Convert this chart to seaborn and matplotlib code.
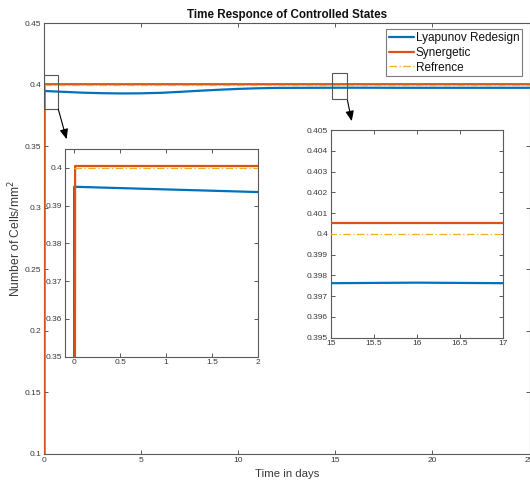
import numpy as np
import pandas as pd
import matplotlib
matplotlib.use("Agg")
import matplotlib.pyplot as plt
from matplotlib.patches import Rectangle
from matplotlib.ticker import FuncFormatter
import seaborn as sns

# ---- data -------------------------------------------------------------
lyap_t = [0.0, 0.0, 1, 2, 3, 4, 5, 6, 7, 8, 9, 10, 11, 12, 14, 16, 18, 20, 25]
lyap_y = [0.1, 0.3950, 0.3943, 0.3936, 0.3932, 0.3930, 0.3931, 0.3935, 0.3943,
          0.3952, 0.3960, 0.3967, 0.3972, 0.3975, 0.3976, 0.39765, 0.3976,
          0.3976, 0.3976]

syn_t = [0.0, 0.01, 25]
syn_y = [0.1, 0.4005, 0.4005]

ref_t = [0.0, 25]
ref_y = [0.4, 0.4]

series_names = ["Lyapunov Redesign", "Synergetic", "Refrence"]
series_colors = ["#0072BD", "#D95319", "#EDB120"]

main_xticks = [0, 5, 10, 15, 20, 25]
main_yticks = [0.1, 0.15, 0.2, 0.25, 0.3, 0.35, 0.4, 0.45]
inset1_xticks = [0, 0.5, 1, 1.5, 2]
inset1_yticks = [0.35, 0.36, 0.37, 0.38, 0.39, 0.4]
inset2_xticks = [15, 15.5, 16, 16.5, 17]
inset2_yticks = [0.395, 0.396, 0.397, 0.398, 0.399, 0.4, 0.401, 0.402,
                 0.403, 0.404, 0.405]

frames = [
    pd.DataFrame({"t": lyap_t, "y": lyap_y, "s": series_names[0]}),
    pd.DataFrame({"t": syn_t, "y": syn_y, "s": series_names[1]}),
    pd.DataFrame({"t": ref_t, "y": ref_y, "s": series_names[2]}),
]

# ---- style ------------------------------------------------------------
sns.set_style("ticks")
plt.rcParams["font.family"] = ["Liberation Sans", "DejaVu Sans"]
AX_COL = "#5a5a5a"
TXT_COL = "#3a3a3a"

W, H = 530, 487
fig = plt.figure(figsize=(W / 100, H / 100), dpi=100)


def px_axes(left, top, right, bottom):
    return fig.add_axes([left / W, 1 - bottom / H, (right - left) / W,
                         (bottom - top) / H])


def draw_series(ax, lw=1.6):
    for df, c in zip(frames, series_colors):
        if df["s"].iloc[0] == "Refrence":
            sns.lineplot(data=df, x="t", y="y", ax=ax, color=c, lw=0.9,
                         linestyle=(0, (6, 2, 1, 2)), estimator=None,
                         sort=False, label=df["s"].iloc[0], zorder=4)
        else:
            sns.lineplot(data=df, x="t", y="y", ax=ax, color=c, lw=lw,
                         estimator=None, sort=False,
                         label=df["s"].iloc[0], zorder=3)


def style_axes(ax, fs=6):
    for sp in ax.spines.values():
        sp.set_visible(True)
        sp.set_color(AX_COL)
        sp.set_linewidth(0.8)
    ax.tick_params(direction="in", length=3, width=0.7, colors=AX_COL,
                   labelcolor=TXT_COL, labelsize=fs, top=True, right=True,
                   pad=2)
    ax.set_xlabel("")
    ax.set_ylabel("")


fmt_g = FuncFormatter(lambda v, _: f"{v:g}")

# ---- main axes --------------------------------------------------------
ax = px_axes(44.3, 23.3, 529.5, 454)
draw_series(ax)
ax.set_xlim(0, 25)
ax.set_ylim(0.1, 0.45)
ax.set_xticks(main_xticks)
ax.set_yticks(main_yticks)
ax.xaxis.set_major_formatter(fmt_g)
ax.yaxis.set_major_formatter(fmt_g)
style_axes(ax)
ax.set_xlabel("Time in days", fontsize=8.2, color=TXT_COL, labelpad=4)
ax.set_ylabel("Number of Cells/mm$^2$", fontsize=8.7, color=TXT_COL,
              labelpad=1)
ax.set_title("Time Responce of Controlled States", fontsize=8.4,
             fontweight="bold", color="#111111", pad=4)

leg = ax.legend(loc="upper right", bbox_to_anchor=(0.9845, 0.986),
                borderaxespad=0, fontsize=8.5, frameon=True, fancybox=False,
                handlelength=2.1, handletextpad=0.2, borderpad=0.2,
                labelspacing=0.25)
leg.get_frame().set_edgecolor(AX_COL)
leg.get_frame().set_linewidth(0.8)
for txt in leg.get_texts():
    txt.set_color("#111111")

# zoom boxes and arrows
ax.add_patch(Rectangle((0.0, 0.3802), 0.72, 0.0277, fill=False,
                       ec="#555555", lw=0.8, zorder=5))
ax.add_patch(Rectangle((14.81, 0.3884), 0.79, 0.0209, fill=False,
                       ec="#555555", lw=0.8, zorder=5))
arrow_kw = dict(arrowstyle="-|>,head_length=0.6,head_width=0.25",
                color="black", lw=0.8, shrinkA=0, shrinkB=0)
ax.annotate("", xy=(1.15, 0.3558), xytext=(0.72, 0.3802),
            arrowprops=arrow_kw, zorder=6)
ax.annotate("", xy=(15.84, 0.3705), xytext=(15.62, 0.3875),
            arrowprops=arrow_kw, zorder=6)

# ---- inset 1: start-up ------------------------------------------------
ax1 = px_axes(65, 149, 258, 356.7)
draw_series(ax1)
ax1.set_xlim(-0.1, 2)
ax1.set_ylim(0.35, 0.405)
ax1.set_xticks(inset1_xticks)
ax1.set_yticks(inset1_yticks)
ax1.xaxis.set_major_formatter(fmt_g)
ax1.yaxis.set_major_formatter(fmt_g)
ax1.get_legend().remove()
style_axes(ax1)
ax1.set_facecolor("white")

# ---- inset 2: steady state --------------------------------------------
ax2 = px_axes(330.7, 130, 502.7, 337.7)
draw_series(ax2)
ax2.set_xlim(15, 17)
ax2.set_ylim(0.395, 0.405)
ax2.set_xticks(inset2_xticks)
ax2.set_yticks(inset2_yticks)
ax2.xaxis.set_major_formatter(fmt_g)
ax2.yaxis.set_major_formatter(fmt_g)
ax2.get_legend().remove()
style_axes(ax2)
ax2.set_facecolor("white")

fig.savefig("out.png", dpi=100)
